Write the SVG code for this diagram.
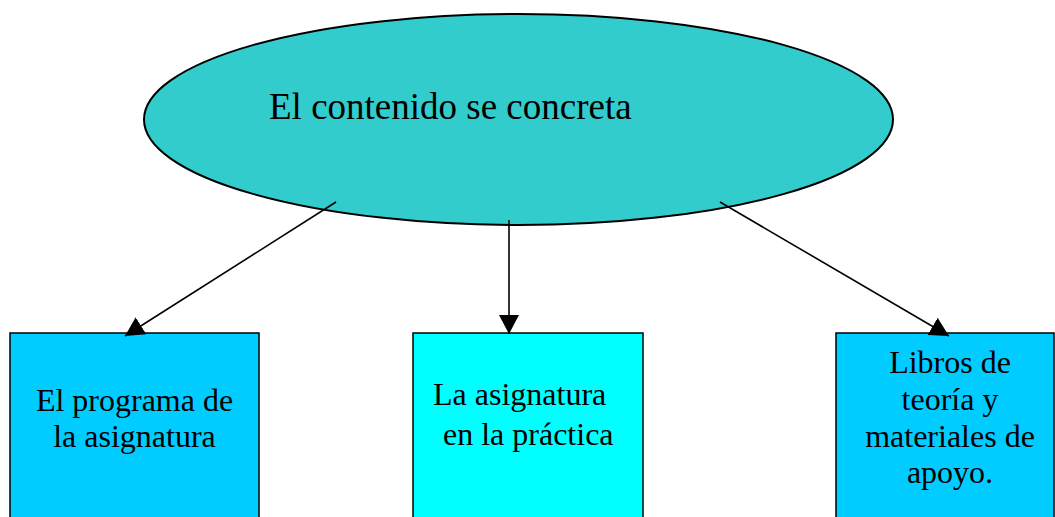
<svg xmlns="http://www.w3.org/2000/svg" width="1055" height="517" viewBox="0 0 1055 517">
<style>
  text { font-family: "Liberation Serif", "Times New Roman", serif; fill: #000; }
  .box { stroke: #000; stroke-width: 1.5; }
  .conn { stroke: #000; stroke-width: 1.6; fill: none; marker-end: url(#arrow); }
</style>
<defs>
  <marker id="arrow" markerUnits="userSpaceOnUse" markerWidth="22" markerHeight="22" refX="19" refY="10" orient="auto">
    <path d="M0,0 L19,10 L0,20 z" fill="#000"/>
  </marker>
</defs>
<rect width="1055" height="517" fill="#fff"/>
<g id="root">
  <ellipse cx="518.5" cy="119.5" rx="374.5" ry="105.5" fill="#33CCCC" stroke="#000" stroke-width="2"/>
  <text x="269" y="119" font-size="37">El contenido se concreta</text>
</g>
<g id="programa">
  <rect class="box" x="10" y="333" width="249" height="200" fill="#00CCFF"/>
  <text x="134.5" y="411" font-size="32" text-anchor="middle">El programa de</text>
  <text x="134.5" y="447" font-size="32" text-anchor="middle">la asignatura</text>
</g>
<g id="practica">
  <rect class="box" x="413" y="333" width="230" height="200" fill="#00FFFF"/>
  <text x="433" y="405" font-size="32">La asignatura</text>
  <text x="443" y="445" font-size="32">en la práctica</text>
</g>
<g id="libros">
  <rect class="box" x="836" y="333" width="218" height="200" fill="#00CCFF"/>
  <text x="950" y="373" font-size="32" text-anchor="middle">Libros de</text>
  <text x="950" y="410" font-size="32" text-anchor="middle">teoría y</text>
  <text x="950" y="447" font-size="32" text-anchor="middle">materiales de</text>
  <text x="950" y="483" font-size="32" text-anchor="middle">apoyo.</text>
</g>
<g id="connectors">
  <line class="conn" x1="336" y1="202" x2="125" y2="336"/>
  <line class="conn" x1="509" y1="220" x2="509" y2="334"/>
  <line class="conn" x1="720" y1="202" x2="949" y2="336"/>
</g>
</svg>
